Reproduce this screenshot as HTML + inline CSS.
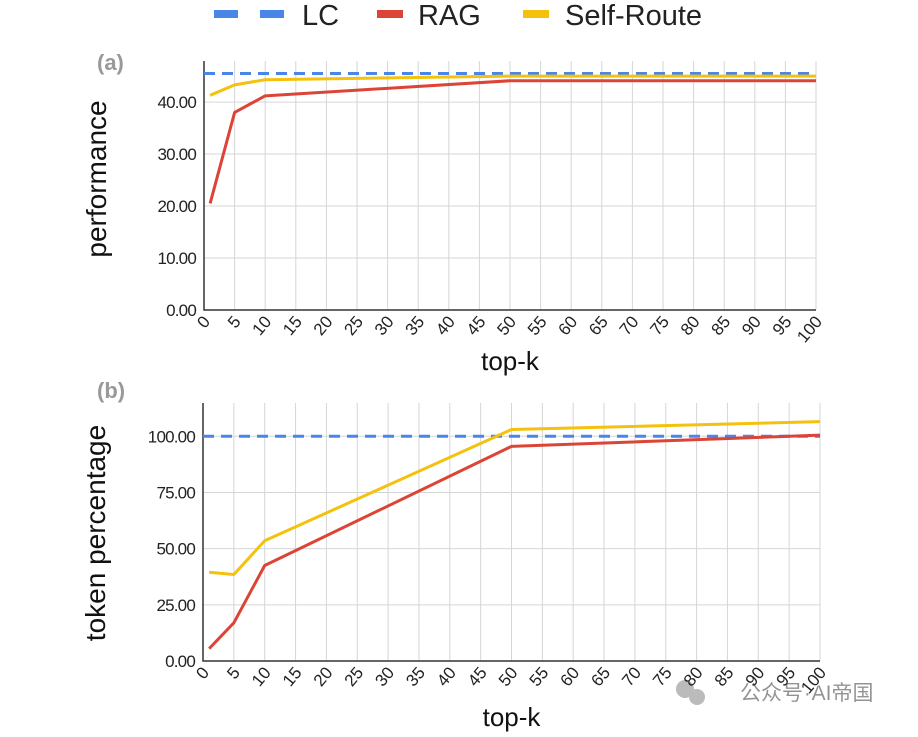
<!DOCTYPE html>
<html><head><meta charset="utf-8"><style>
body{margin:0;background:#fff;}
svg text{font-family:"Liberation Sans","Noto Sans CJK SC",sans-serif;}
</style></head><body>
<svg id="c" width="918" height="732" viewBox="0 0 918 732" xmlns="http://www.w3.org/2000/svg">
<g>
 <g><rect x="214" y="10" width="24" height="8" fill="#4a86e8"/><rect x="260" y="10" width="24" height="8" fill="#4a86e8"/><text x="302" y="25" font-size="29" fill="#222">LC</text></g>
 <g><rect x="377" y="10" width="26" height="8" fill="#db4437"/><text x="418" y="25" font-size="29" fill="#222">RAG</text></g>
 <g><rect x="523" y="10" width="26" height="8" fill="#f4c20d"/><text x="565" y="25" font-size="29" fill="#222">Self-Route</text></g>
</g>
<text x="97" y="70" font-size="22" font-weight="bold" fill="#999">(a)</text>
<text x="97" y="398" font-size="22" font-weight="bold" fill="#999">(b)</text>
<text font-size="21" fill="#111" word-spacing="-5" transform="translate(740,700)" opacity="0.45">公众号 · AI帝国</text>
<circle cx="685" cy="689" r="9" fill="#bbb"/>
<circle cx="697" cy="697" r="8" fill="#bbb"/>
</svg>
<script>
const kVals=[1,5,10,50,100];
const ragA=[20.5,38,41.2,44.1,44.1];
const selfA=[41.3,43.3,44.3,45,45];
const lcA=45.5;
const ticksA=[0,10,20,30,40];
const ragB=[5.5,17,42.5,95.5,100.5];
const selfB=[39.5,38.5,53.5,103,106.5];
const lcB=100;
const ticksB=[0,25,50,75,100];
const xTicks=[0,5,10,15,20,25,30,35,40,45,50,55,60,65,70,75,80,85,90,95,100];
const svg=document.getElementById('c');
const NS='http://www.w3.org/2000/svg';
function mk(t,a,p){const e=document.createElementNS(NS,t);for(const k in a)e.setAttribute(k,a[k]);(p||svg).appendChild(e);return e;}
function panel(o){
 const g=mk('g',{});
 
 
 const x=v=>o.x0+(v/100)*(o.x1-o.x0);
 const y=v=>o.y0-(v/o.yMax)*(o.y0-o.yTop);
 xTicks.forEach(t=>{const l=mk('line',{x1:x(t),x2:x(t),y1:o.yTop,y2:o.y0,stroke:'#d6d6d6','stroke-width':1},g);
  
  
  const tx=mk('text',{x:0,y:0,'font-size':17,fill:'#222','text-anchor':'end',transform:`translate(${x(t)+7},${o.y0+12}) rotate(-50)`},g);
  tx.textContent=t;
  
  });
 o.ticks.forEach(t=>{if(t>0){const l=mk('line',{x1:o.x0,x2:o.x1,y1:y(t),y2:y(t),stroke:'#d6d6d6','stroke-width':1},g);
  
  }
  const tx=mk('text',{x:o.x0-8,y:y(t)+6,'font-size':17,fill:'#222','text-anchor':'end','letter-spacing':'-0.8'},g);
  tx.textContent=t.toFixed(2);
  
  });
 const ax=mk('path',{d:`M${o.x0},${o.yTop}V${o.y0}H${o.x1}`,fill:'none',stroke:'#333','stroke-width':1.5},g);
 
 
 const lc=mk('line',{x1:x(0),x2:x(100),y1:y(o.lc),y2:y(o.lc),stroke:'#4a86e8','stroke-width':3,'stroke-dasharray':'11,7'},g);
 
 
 [[o.self,'#f4c20d','self-route-line'],[o.rag,'#db4437','rag-line']].forEach(([d,c,n])=>{
  const p=mk('polyline',{points:kVals.map((k,i)=>x(k)+','+y(d[i])).join(' '),fill:'none',stroke:c,'stroke-width':3,'stroke-linejoin':'round'},g);
  
  });
 const yl=mk('text',{x:0,y:0,'font-size':o.ylsize,fill:'#111','text-anchor':'middle',transform:`translate(${o.ylx},${o.ylc}) rotate(-90)`},g);
 yl.textContent=o.ylabel;
 
 
 const xl=mk('text',{x:(o.x0+o.x1)/2,y:o.xly,'font-size':26,fill:'#111','text-anchor':'middle'},g);
 xl.textContent='top-k';
 
 
}
panel({name:'performance-chart',x0:204,x1:816,y0:310,yTop:61,yMax:47.9,ticks:ticksA,rag:ragA,self:selfA,lc:lcA,ylabel:'performance',ylx:106,ylc:179,ylsize:28,xly:370});
panel({name:'token-percentage-chart',x0:203,x1:820,y0:661,yTop:403,yMax:114.8,ticks:ticksB,rag:ragB,self:selfB,lc:lcB,ylabel:'token percentage',ylx:105,ylc:533,ylsize:28,xly:726});
</script>
</body></html>
